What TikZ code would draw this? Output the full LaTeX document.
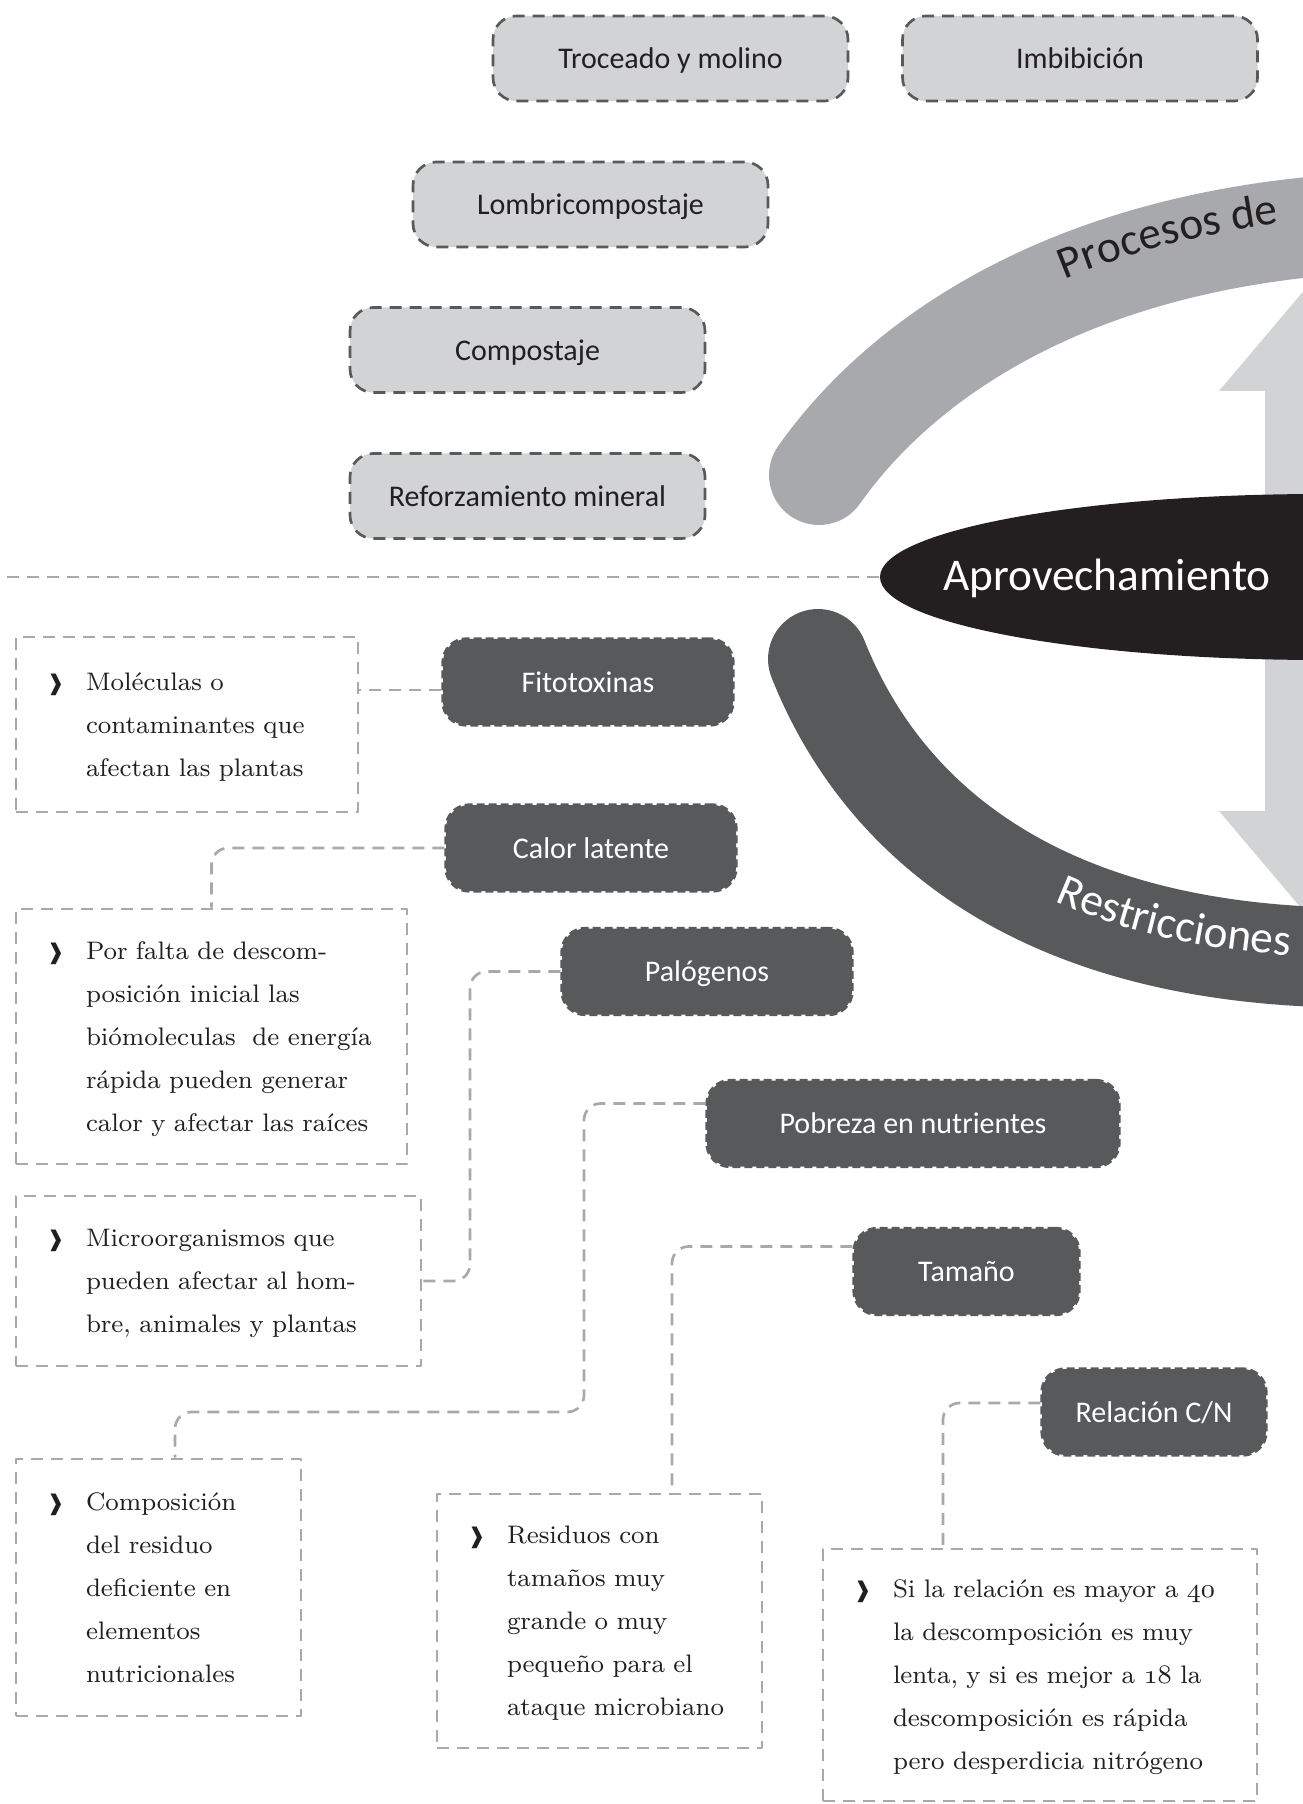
\documentclass[tikz,border=0pt]{standalone}
\usepackage{fontspec}
\newfontfamily\carlito{Carlito}
\newfontfamily\bulfont{DejaVu Sans}
\usetikzlibrary{shapes.geometric,decorations.text}
\definecolor{ink}{HTML}{231F20}
\definecolor{procgris}{HTML}{A7A9AC}
\definecolor{restgris}{HTML}{58595B}
\definecolor{clarogris}{HTML}{D1D3D4}
\newcommand{\osn}[1]{{\usefont{OML}{cmm}{m}{it}#1}}
\newcommand{\vin}{{\bulfont\fontsize{6.5}{8}\selectfont\hspace*{-1pt}❱}}
\newcommand{\lista}[1]{\noindent\begin{tabular}{@{}p{10.8pt}@{}l@{}}\vin & #1\end{tabular}}
\tikzset{
  procbox/.style={rounded corners=7pt, fill=clarogris, draw=restgris, line width=0.8pt,
    dash pattern=on 3.6pt off 2.4pt, minimum width=106.5pt, minimum height=25.5pt,
    text height=6.2pt, text depth=0pt, font=\carlito\fontsize{9}{11}\selectfont, text=ink},
  restbox/.style={rounded corners=7pt, fill=restgris, draw=restgris, line width=1pt,
    dash pattern=on 2.4pt off 1.2pt, minimum height=25.8pt,
    text height=6.2pt, text depth=0pt, font=\carlito\fontsize{9}{11}\selectfont, text=white},
  txtbox/.style={draw=procgris, line width=0.8pt, dash pattern=on 3.6pt off 2.4pt,
    inner xsep=10.2pt, inner ysep=0pt, font=\fontsize{7.6}{12.9}\selectfont, text=ink, align=left},
  enlace/.style={draw=procgris, line width=0.8pt, dash pattern=on 3.6pt off 2.4pt, rounded corners=5pt},
  banda/.style={line width=30pt, line cap=round},
}
\begin{document}
\begin{tikzpicture}[x=0.3pt, y=-0.3pt, line join=round]
\useasboundingbox (0,0) rectangle (1303,1804);
\clip (0,0) rectangle (1303,1804);
% flecha doble
\fill[clarogris] (1219,391) -- (1340,248) -- (1461,391) -- (1415,391) -- (1415,811)
  -- (1461,811) -- (1340,954) -- (1219,811) -- (1265,811) -- (1265,391) -- cycle;
% centro
\node[ellipse, fill=ink, minimum width=265.2pt, minimum height=49.8pt, inner sep=0pt] (aprovell) at (1322,577) {};
\node[text=white, font=\carlito\fontsize{13.6}{16}\selectfont, anchor=base] (aprov) at (1107,591) {Aprovechamiento};
\coordinate (bordeizq) at (0,573);
\draw[enlace] (aprovell.west) -- (bordeizq |- aprovell.west);
% bandas
\draw[banda, procgris] (819,475) .. controls (900,360) and (1060,250) .. (1320,226);
\draw[banda, restgris] (818,659) .. controls (870,790) and (1000,945) .. (1320,957);
\path[decorate, decoration={text along path, raise=2pt,
  text={|\carlito\fontsize{13.6}{16}\selectfont\color{ink}|Procesos de},
  text align={align=right, right indent=12pt}}]
  (1002.4,316.4) .. controls (1085,271.5) and (1190,238) .. (1320,226);
\path[decorate, decoration={text along path,
  text={|\carlito\fontsize{13.6}{16}\selectfont\color{white}|Restricciones},
  text align={align=right, right indent=9pt}}]
  (968.5,852.6) .. controls (1047.5,909.25) and (1160,951) .. (1320,957);
% procesos
\foreach \nom/\pos/\txt in {trocea/{670.5,58.5}/Troceado y molino, imbib/{1080,58.5}/Imbibición,
  lombri/{590.5,204.5}/Lombricompostaje, compos/{527.5,350}/Compostaje,
  reforz/{527.5,496}/Reforzamiento mineral}
  \node[procbox] (\nom) at (\pos) {\txt};
% restricciones
\node[restbox, minimum width=87pt] (fito) at (588,682) {Fitotoxinas};
\node[restbox, minimum width=87pt] (calor) at (591,848) {Calor latente};
\node[restbox, minimum width=87pt] (palo) at (707,971.5) {Palógenos};
\node[restbox, minimum width=123.6pt] (pobre) at (913,1123.5) {Pobreza en nutrientes};
\node[restbox, minimum width=67.5pt] (tamano) at (966.5,1271.5) {Tamaño};
\node[restbox, minimum width=67.2pt] (relcn) at (1154,1412) {Relación C/N};
% descripciones
\node[txtbox, minimum width=102.6pt, minimum height=52.5pt, text width=82.2pt] (molbox) at (187,724.5)
  {\lista{Moléculas o\\ & contaminantes que\\ & afectan las plantas}};
\node[txtbox, minimum width=117.3pt, minimum height=76.5pt, text width=96.9pt] (porbox) at (211.5,1036.5)
  {\lista{Por falta de descom-\\ & posición inicial las\\ & biómoleculas\ \ de energía\\ & rápida pueden generar\\ & calor y afectar las raíces}};
\node[txtbox, minimum width=121.5pt, minimum height=51pt, text width=101.1pt] (microbox) at (218.5,1281)
  {\lista{Microorganismos que\\ & pueden afectar al hom-\\ & bre, animales y plantas}};
\node[txtbox, minimum width=85.5pt, minimum height=77.1pt, text width=65.1pt] (compbox) at (158.5,1587.5)
  {\lista{Composición\\ & del residuo\\ & deficiente en\\ & elementos\\ & nutricionales}};
\node[txtbox, minimum width=97.5pt, minimum height=76.2pt, text width=77.1pt] (resbox) at (599.5,1621)
  {\lista{Residuos con\\ & tamaños muy\\ & grande o muy\\ & pequeño para el\\ & ataque microbiano}};
\node[txtbox, minimum width=130.2pt, minimum height=75.6pt, text width=109.8pt] (sibox) at (1040,1675)
  {\lista{Si la relación es mayor a \osn{40}\\ & la descomposición es muy\\ & lenta, y si es mejor a \osn{18} la\\ & descomposición es rápida\\ & pero desperdicia nitrógeno}};
% enlaces
\coordinate (k3) at (470,1281);
\coordinate (k4a) at (584,1412);
\coordinate (k4b) at (175,1412);
\coordinate (k5) at (672,1247);
\coordinate (k6) at (943,1403);
\draw[enlace] ([yshift=-2.4pt]fito.west) -- ([yshift=-2.4pt]fito.west -| molbox.east);
\draw[enlace] (calor.west) -| (porbox.north);
\draw[enlace] (palo.west) -| (k3) -- (microbox.east);
\draw[enlace] ([yshift=6pt]pobre.west) -| (k4a) -- (k4b) -- (k4b |- compbox.north);
\draw[enlace] ([yshift=7.5pt]tamano.west) -| (k5 |- resbox.north);
\draw[enlace] ([yshift=2.7pt]relcn.west) -| (k6 |- sibox.north);
\end{tikzpicture}
\end{document}
